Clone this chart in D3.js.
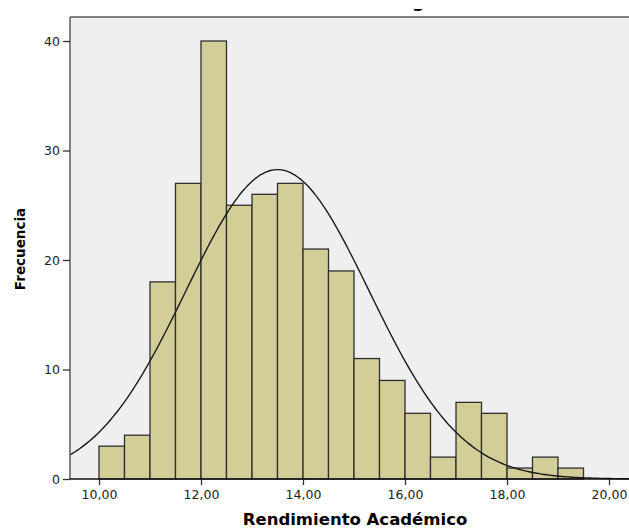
<!DOCTYPE html>
<html>
<head>
<meta charset="utf-8">
<script src="https://cdn.jsdelivr.net/npm/d3@7"></script>
<style>
  body { margin: 0; background: #fff; }
  svg { display: block; font-family: "DejaVu Sans", Verdana, sans-serif; }
</style>
</head>
<body>
<svg id="chart" width="629" height="529"></svg>
<script>
// Histograma · Rendimiento Académico (bins de 0,5)
const BIN_START = [10, 10.5, 11, 11.5, 12, 12.5, 13, 13.5, 14, 14.5, 15, 15.5, 16, 16.5, 17, 17.5, 18, 18.5, 19];
const BIN_COUNT = [3, 4, 18, 27, 40, 25, 26, 27, 21, 19, 11, 9, 6, 2, 7, 6, 1, 2, 1];
const BIN_WIDTH = 0.5;
const X_TICKS = [10, 12, 14, 16, 18, 20];
const Y_TICKS = [0, 10, 20, 30, 40];
// curva normal ajustada
const MEAN = 13.5, SD = 1.8, N = 255;

const svg = d3.select("#chart");
const L = 70, T = 17, R = 640, B = 479;

const x = d3.scaleLinear().domain([10, 20]).range([99, 609]);
const y = d3.scaleLinear().domain([0, 40]).range([B, 41]);

// título (recortado arriba, sólo asoma el rabo de la "g")
svg.append("clipPath").attr("id", "tclip")
  .append("rect").attr("x", 0).attr("y", 9).attr("width", 629).attr("height", 8);
svg.append("text").attr("clip-path", "url(#tclip)")
  .attr("x", 418).attr("y", 7).attr("text-anchor", "middle")
  .attr("font-size", 18).attr("font-weight", "bold").attr("fill", "#000")
  .text("Histograma");

// fondo del área
svg.append("rect").attr("x", L).attr("y", T).attr("width", R - L).attr("height", B - T)
  .attr("fill", "#efefef");

// barras
svg.append("g").selectAll("rect").data(BIN_START).join("rect")
  .attr("x", (d) => x(d))
  .attr("y", (d, i) => y(BIN_COUNT[i]))
  .attr("width", (d) => x(d + BIN_WIDTH) - x(d))
  .attr("height", (d, i) => y(0) - y(BIN_COUNT[i]))
  .attr("fill", "#d3ce98").attr("stroke", "#2e2e2e").attr("stroke-width", 1.3);

// curva normal
const xs = d3.range(x.invert(L), x.invert(629) + 0.05, 0.05);
const pdf = (v) => N * BIN_WIDTH / (SD * Math.sqrt(2 * Math.PI)) * Math.exp(-0.5 * ((v - MEAN) / SD) ** 2);
svg.append("path").datum(xs)
  .attr("d", d3.line().x((v) => x(v)).y((v) => y(pdf(v))).curve(d3.curveBasis))
  .attr("fill", "none").attr("stroke", "#1a1a1a").attr("stroke-width", 1.4);

// marco
svg.append("line").attr("x1", L).attr("x2", R).attr("y1", T).attr("y2", T)
  .attr("stroke", "#5a5a5a").attr("stroke-width", 1.5);
svg.append("line").attr("x1", L).attr("x2", L).attr("y1", T).attr("y2", B)
  .attr("stroke", "#5a5a5a").attr("stroke-width", 1.5);

// ejes
const xAxis = svg.append("g").attr("transform", `translate(0,${B})`)
  .call(d3.axisBottom(x).tickValues(X_TICKS).tickSize(6).tickPadding(5)
    .tickFormat((d) => d3.format(".2f")(d).replace(".", ",")));
xAxis.select(".domain").remove();
svg.append("line").attr("x1", L).attr("x2", R).attr("y1", B).attr("y2", B)
  .attr("stroke", "#111").attr("stroke-width", 1.5);

const yAxis = svg.append("g").attr("transform", `translate(${L},0)`)
  .call(d3.axisLeft(y).tickValues(Y_TICKS).tickSize(7).tickPadding(3));
yAxis.select(".domain").remove();

svg.selectAll(".tick line").attr("stroke", "#333").attr("stroke-width", 1.3);
svg.selectAll(".tick text").attr("font-size", 12.5).attr("fill", "#222")
  .attr("font-family", "'DejaVu Sans', Verdana, sans-serif");

// títulos de ejes
svg.append("text").attr("x", 355).attr("y", 525).attr("text-anchor", "middle")
  .attr("font-size", 16.5).attr("font-weight", "bold").text("Rendimiento Académico");
svg.append("text").attr("transform", "translate(25,249) rotate(-90)")
  .attr("text-anchor", "middle").attr("font-size", 13.5).attr("font-weight", "bold")
  .text("Frecuencia");
</script>
</body>
</html>
